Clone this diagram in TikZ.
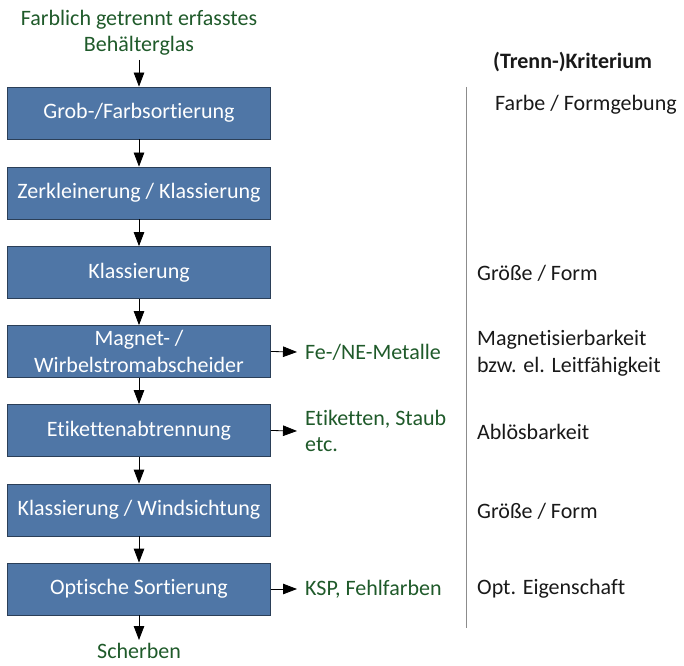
\documentclass[tikz,border=0pt]{standalone}
\usepackage{fontspec}
\setmainfont{Carlito}[Ligatures={NoCommon}]
\usetikzlibrary{arrows.meta}
\definecolor{boxfill}{HTML}{4F76A6}
\definecolor{boxedge}{HTML}{2B3F58}
\definecolor{outgreen}{HTML}{1F5A2A}
\definecolor{critgray}{HTML}{8C8C8C}
\begin{document}
\begin{tikzpicture}[x=1bp,y=-1bp,
  font=\fontsize{22bp}{26.5bp}\selectfont,
  stepbox/.style={draw=boxedge,line width=0.8bp,fill=boxfill,text=white,
    minimum width=263bp,minimum height=52bp,inner sep=0pt,align=center},
  outtext/.style={text=outgreen,align=left,anchor=west,inner sep=0pt},
  crit/.style={text=black!90,align=left,anchor=west,inner sep=0pt},
  flow/.style={line width=0.8bp,-{Triangle[length=14bp,width=10.5bp]}}]
\useasboundingbox (0,0) rectangle (684,666);

% input and output labels
\node[text=outgreen,align=center,inner sep=0pt] (in) at (139,33) {Farblich getrennt erfasstes\\Behälterglas};
\node[text=outgreen,inner sep=0pt,anchor=base] (out) at (139,658.5) {Scherben};

% process chain
\node[stepbox] (s1) at (139,113) {Grob-/Farbsortierung};
\node[stepbox] (s2) at (139,193) {Zerkleinerung / Klassierung};
\node[stepbox] (s3) at (139,272.5) {Klassierung};
\node[stepbox] (s4) at (139,351.5) {Magnet- /\\Wirbelstromabscheider};
\node[stepbox] (s5) at (139,430.5) {Etikettenabtrennung};
\node[stepbox] (s6) at (139,510) {Klassierung / Windsichtung};
\node[stepbox] (s7) at (139,589) {Optische Sortierung};

\coordinate (inend) at (139,60);
\draw[flow] (inend) -- (s1.north);
\draw[flow] (s1) -- (s2);
\draw[flow] (s2) -- (s3);
\draw[flow] (s3) -- (s4);
\draw[flow] (s4) -- (s5);
\draw[flow] (s5) -- (s6);
\draw[flow] (s6) -- (s7);
\coordinate (outtop) at (139,640);
\draw[flow] (s7.south) -- (outtop);

% separated fractions
\node[outtext] (o4) at (305,352) {Fe-/NE-Metalle};
\node[outtext] (o5) at (305,431) {Etiketten, Staub\\etc.};
\node[outtext] (o7) at (305,589) {KSP, Fehlfarben};
\coordinate (a4) at (297,352);
\coordinate (a5) at (297,431);
\coordinate (a7) at (297,589);
\draw[flow] (s4.east) -- (a4);
\draw[flow] (s5.east) -- (a5);
\draw[flow] (s7.east) -- (a7);

% criteria column
\coordinate (ltop) at (466.5,87);
\coordinate (lbot) at (466.5,628);
\draw[critgray,line width=0.8bp] (ltop) -- (lbot);
\node[crit,font=\fontsize{22bp}{26bp}\selectfont\bfseries] (head) at (493,62) {(Trenn-)Kriterium};
\node[crit] (c1) at (495,105) {Farbe / Formgebung};
\node[crit] (c3) at (477,273) {Größe / Form};
\node[crit] (c4) at (477,353) {Magnetisierbarkeit\\bzw. el. Leitfähigkeit};
\node[crit] (c5) at (477,432) {Ablösbarkeit};
\node[crit] (c6) at (477,511) {Größe / Form};
\node[crit] (c7) at (477,589) {Opt. Eigenschaft};
\end{tikzpicture}
\end{document}
